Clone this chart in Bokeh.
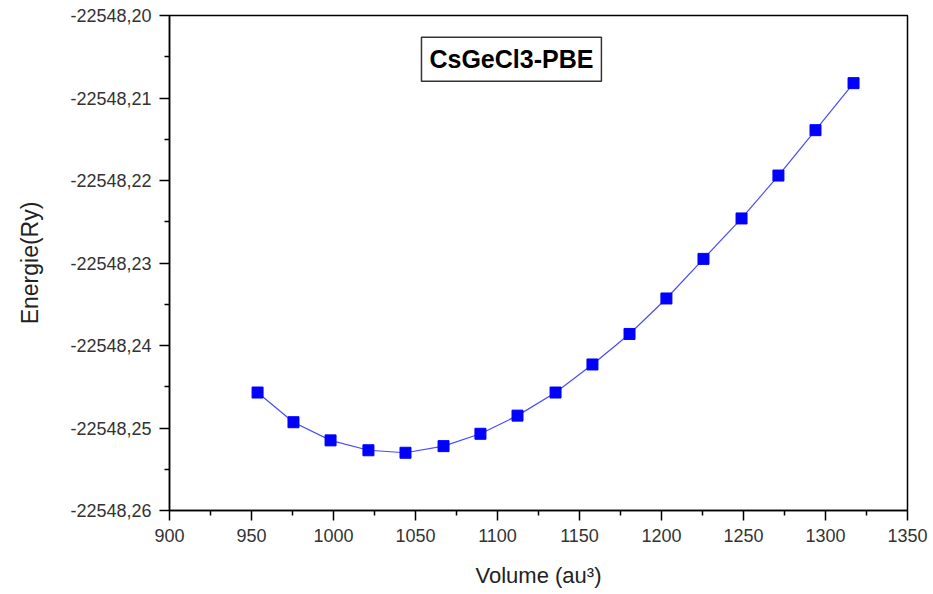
from bokeh.plotting import figure
from bokeh.models import FixedTicker, CustomJSTickFormatter, Label, Range1d
from bokeh.embed import file_html
from bokeh.resources import INLINE

# ---- data ----
volume = [953.7, 975.6, 998.2, 1021.3, 1043.9, 1067.1, 1089.6, 1112.2, 1135.4,
          1157.9, 1180.5, 1203.0, 1225.6, 1248.8, 1271.3, 1293.9, 1317.1]
energy = [-22548.2457, -22548.2493, -22548.2515, -22548.2527, -22548.2530,
          -22548.2522, -22548.2507, -22548.2485, -22548.2457, -22548.2423,
          -22548.2386, -22548.2343, -22548.2295, -22548.2246, -22548.2194,
          -22548.2139, -22548.2082]

x_ticks = [900, 950, 1000, 1050, 1100, 1150, 1200, 1250, 1300, 1350]
x_minor = [925, 975, 1025, 1075, 1125, 1175, 1225, 1275, 1325]
y_ticks = [-22548.26, -22548.25, -22548.24, -22548.23, -22548.22, -22548.21, -22548.20]
y_minor = [-22548.255, -22548.245, -22548.235, -22548.225, -22548.215, -22548.205]

title_text = "CsGeCl3-PBE"
x_label = "Volume (au\u00b3)"
y_label = "Energie(Ry)"

FONT = "Liberation Sans"

p = figure(width=933, height=594, output_backend="svg", toolbar_location=None,
           x_range=Range1d(900, 1350), y_range=Range1d(-22548.26, -22548.20),
           min_border_left=169, min_border_right=26, min_border_top=15,
           min_border_bottom=84)

p.background_fill_color = "white"
p.border_fill_color = "white"
p.outline_line_color = "black"
p.outline_line_width = 1.5
p.xgrid.visible = False
p.ygrid.visible = False

p.xaxis.ticker = FixedTicker(ticks=x_ticks, minor_ticks=x_minor)
p.yaxis.ticker = FixedTicker(ticks=y_ticks, minor_ticks=y_minor)
p.yaxis.formatter = CustomJSTickFormatter(code="return tick.toFixed(2).replace('.', ',');")

for ax in (p.xaxis, p.yaxis):
    ax.axis_line_color = "black"
    ax.axis_line_width = 1.5
    ax.major_tick_line_color = "black"
    ax.major_tick_line_width = 1.5
    ax.minor_tick_line_color = "black"
    ax.minor_tick_line_width = 1.5
    ax.major_tick_in = 0
    ax.major_tick_out = 10
    ax.minor_tick_in = 0
    ax.minor_tick_out = 5
    ax.major_label_text_font = FONT
    ax.major_label_text_font_size = "18px"
    ax.major_label_text_color = "#333333"
    ax.axis_label_text_font = FONT
    ax.axis_label_text_font_style = "normal"
    ax.axis_label_text_color = "#222222"
    ax.major_label_standoff = 8

p.xaxis.axis_label = x_label
p.xaxis.axis_label_text_font_size = "22px"
p.xaxis.axis_label_standoff = 18
p.yaxis.axis_label = y_label
p.yaxis.axis_label_text_font_size = "23px"
p.yaxis.axis_label_standoff = 24

p.line(volume, energy, line_color="#4a4aff", line_width=1.2)
p.scatter(volume, energy, marker="square", size=11, fill_color="#0000ff",
          line_color="#0000ff")

title = Label(x=1108.5, y=-22548.2053, text=title_text, text_align="center",
              text_baseline="middle", text_font=FONT, text_font_style="bold",
              text_font_size="25px", text_color="black",
              background_fill_color="white", border_line_color="#333333",
              border_line_width=1.5, padding=8)
p.add_layout(title)

open("out.html", "w").write(file_html(p, INLINE))
